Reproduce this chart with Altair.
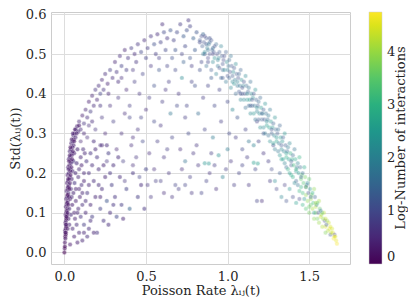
import altair as alt
import pandas as pd

# Dense left wedge (x, y, log-number)
wedge = [
    (0.000,0.000,0.0),(0.002,0.010,0.1),(0.003,0.025,0.2),(0.005,0.040,0.1),(0.004,0.055,0.3),(0.008,0.060,0.2),
    (0.006,0.075,0.2),(0.010,0.080,0.4),(0.007,0.095,0.3),(0.012,0.100,0.2),(0.015,0.090,0.5),(0.009,0.115,0.3),
    (0.014,0.120,0.4),(0.018,0.110,0.2),(0.011,0.135,0.3),(0.016,0.140,0.5),(0.021,0.130,0.3),(0.013,0.155,0.4),
    (0.019,0.160,0.3),(0.025,0.150,0.6),(0.016,0.175,0.3),(0.022,0.180,0.4),(0.028,0.170,0.5),(0.019,0.195,0.3),
    (0.026,0.200,0.5),(0.033,0.190,0.4),(0.023,0.215,0.4),(0.030,0.220,0.3),(0.037,0.210,0.6),(0.027,0.235,0.4),
    (0.034,0.240,0.5),(0.041,0.230,0.3),(0.033,0.255,0.5),(0.040,0.260,0.4),(0.047,0.250,0.5),(0.042,0.275,0.4),
    (0.050,0.280,0.6),(0.056,0.270,0.4),(0.055,0.295,0.5),(0.062,0.300,0.3),(0.068,0.290,0.5),(0.070,0.310,0.6),
    (0.078,0.318,0.4),(0.085,0.305,0.5),
    (0.020,0.060,0.3),(0.025,0.085,0.4),(0.030,0.110,0.5),(0.035,0.135,0.3),(0.040,0.160,0.6),(0.045,0.185,0.4),
    (0.050,0.205,0.5),(0.055,0.230,0.7),(0.060,0.250,0.4),(0.030,0.070,0.5),(0.040,0.095,0.6),(0.048,0.120,0.4),
    (0.055,0.150,0.5),(0.062,0.175,0.7),(0.068,0.200,0.5),(0.075,0.225,0.6),(0.080,0.260,0.5),
    (0.010,0.050,0.2),(0.013,0.070,0.3),(0.017,0.095,0.2),(0.020,0.125,0.4),(0.024,0.145,0.3),(0.028,0.165,0.2),
    (0.031,0.185,0.4),(0.036,0.205,0.3),(0.040,0.225,0.5),(0.045,0.245,0.3),(0.050,0.265,0.4),(0.058,0.285,0.3),
    (0.003,0.015,0.1),(0.006,0.035,0.2),(0.008,0.045,0.1),(0.011,0.065,0.2),(0.012,0.085,0.1),(0.014,0.105,0.3),
    (0.016,0.125,0.2),(0.018,0.145,0.1),(0.021,0.165,0.3),(0.023,0.185,0.2),(0.026,0.210,0.3),(0.029,0.230,0.2),
    (0.033,0.245,0.3),(0.037,0.265,0.2),(0.045,0.285,0.3),(0.052,0.300,0.4),(0.006,0.050,0.2),(0.009,0.070,0.3),
    (0.012,0.090,0.2),(0.020,0.100,0.3),(0.024,0.120,0.2),(0.027,0.140,0.3),(0.030,0.160,0.2),(0.034,0.175,0.3),
    (0.038,0.195,0.2),(0.043,0.215,0.3),(0.047,0.235,0.2),(0.052,0.255,0.3),(0.060,0.280,0.2),(0.065,0.310,0.3),
    (0.075,0.300,0.4),(0.090,0.320,0.3),
]

# Fan spreading to the right of the wedge
fan = [
    (0.050,0.060,0.5),(0.060,0.040,0.4),(0.075,0.070,0.6),(0.090,0.050,0.5),(0.100,0.090,0.7),(0.085,0.110,0.5),
    (0.110,0.120,0.6),(0.120,0.070,0.8),(0.130,0.100,0.5),(0.140,0.150,0.7),(0.095,0.140,0.4),(0.105,0.170,0.6),
    (0.150,0.060,0.6),(0.160,0.120,0.5),(0.170,0.090,0.8),(0.180,0.180,0.6),(0.120,0.200,0.5),(0.135,0.230,0.7),
    (0.190,0.140,0.5),(0.200,0.050,0.7),(0.210,0.210,0.6),(0.220,0.110,0.9),(0.230,0.160,0.6),(0.240,0.080,0.7),
    (0.250,0.190,0.5),(0.100,0.240,0.5),(0.115,0.260,0.6),(0.160,0.250,0.7),(0.260,0.130,1.2),(0.280,0.100,0.6),
    (0.290,0.170,0.8),(0.300,0.220,0.6),(0.310,0.140,0.7),(0.320,0.090,1.0),(0.340,0.190,0.6),(0.350,0.120,0.8),
    (0.360,0.085,0.5),(0.380,0.160,0.9),(0.400,0.110,1.5),(0.420,0.200,0.7),(0.450,0.140,0.8),(0.470,0.170,0.6),
    (0.490,0.110,0.7),(0.500,0.210,0.9),(0.070,0.130,0.4),(0.085,0.190,0.5),(0.150,0.200,0.6),(0.200,0.240,0.7),
    (0.230,0.270,0.5),(0.270,0.250,0.8),(0.180,0.280,0.6),(0.060,0.100,0.4),(0.045,0.140,0.5),(0.140,0.040,0.6),
    (0.110,0.030,0.5),(0.080,0.025,0.4),(0.035,0.020,0.3),
    (0.065,0.085,0.4),(0.080,0.100,0.5),(0.090,0.160,0.4),(0.110,0.150,0.5),(0.120,0.180,0.4),(0.130,0.130,0.6),
    (0.150,0.170,0.5),(0.070,0.160,0.4),(0.090,0.210,0.5),(0.105,0.220,0.4),(0.125,0.250,0.5),(0.170,0.220,0.6),
    (0.190,0.260,0.5),(0.210,0.170,0.6),(0.240,0.220,0.5),(0.260,0.270,0.6),(0.280,0.200,0.7),(0.330,0.240,0.6),
    (0.120,0.050,0.5),(0.160,0.080,0.6),(0.180,0.050,0.5),(0.270,0.070,0.6),(0.300,0.120,0.7),(0.220,0.140,0.5),
]

# Upper-left arch edge
arch = [
    (0.090,0.330,0.5),(0.100,0.310,0.6),(0.110,0.345,0.4),(0.120,0.325,0.7),(0.130,0.360,0.5),(0.140,0.340,0.6),
    (0.150,0.380,0.4),(0.160,0.355,0.8),(0.170,0.395,0.5),(0.180,0.370,0.6),(0.190,0.410,0.7),(0.200,0.385,0.5),
    (0.210,0.420,0.6),(0.220,0.400,0.9),(0.230,0.435,0.5),(0.240,0.410,0.7),(0.250,0.450,0.6),(0.265,0.425,0.5),
    (0.280,0.460,0.8),(0.295,0.440,0.6),(0.310,0.480,0.5),(0.320,0.455,0.7),(0.340,0.495,0.6),(0.350,0.470,0.9),
    (0.370,0.510,0.5),(0.390,0.490,0.7),(0.410,0.515,0.8),(0.430,0.500,0.6),(0.450,0.525,0.7),(0.470,0.505,1.0),
    (0.490,0.535,0.6),(0.510,0.515,0.8),(0.530,0.545,0.7),(0.550,0.525,1.1),(0.570,0.550,0.6),(0.590,0.530,0.9),
    (0.610,0.555,1.0),(0.630,0.540,0.7),(0.650,0.560,1.2),(0.670,0.535,0.9),(0.690,0.555,1.0),(0.710,0.575,0.8),
    (0.730,0.545,1.3),(0.750,0.560,1.1),(0.770,0.570,0.9),(0.790,0.540,1.4),(0.810,0.555,1.2),(0.830,0.530,1.0),
    (0.850,0.550,1.5),(0.870,0.525,1.3),(0.890,0.540,1.1),(0.910,0.515,1.6),
    (0.120,0.300,0.5),(0.170,0.330,0.6),(0.220,0.370,0.7),(0.270,0.400,0.5),(0.330,0.430,0.6),(0.380,0.460,0.8),
    (0.440,0.480,0.7),(0.500,0.490,0.9),(0.560,0.500,0.8),(0.620,0.510,1.0),(0.680,0.510,1.2),(0.740,0.520,1.0),
    (0.800,0.510,1.3),(0.860,0.500,1.2),(0.600,0.575,0.6),(0.760,0.585,0.7),
]

# Sparse interior of the arch
inner = [
    (0.10,0.28,0.5),(0.14,0.29,0.6),(0.19,0.31,0.7),(0.25,0.30,0.5),(0.30,0.33,0.8),(0.35,0.30,0.6),(0.40,0.34,0.9),
    (0.45,0.31,0.7),(0.50,0.36,0.6),(0.55,0.33,1.0),(0.60,0.38,0.8),(0.65,0.35,1.8),(0.70,0.40,0.7),(0.75,0.37,0.9),
    (0.80,0.42,1.1),(0.85,0.39,0.8),(0.90,0.44,1.3),(0.95,0.41,0.9),(1.00,0.38,1.0),
    (0.28,0.37,0.6),(0.33,0.39,0.7),(0.38,0.41,0.5),(0.43,0.43,0.8),(0.48,0.45,0.9),(0.53,0.47,0.7),(0.58,0.46,1.2),
    (0.63,0.47,0.9),(0.68,0.46,1.0),(0.73,0.48,1.4),(0.78,0.47,0.8),(0.83,0.46,1.1),(0.88,0.48,1.0),
    (0.22,0.27,0.6),(0.26,0.23,0.7),(0.32,0.26,0.5),(0.36,0.23,0.8),(0.41,0.27,0.6),(0.44,0.24,0.7),(0.48,0.28,1.0),
    (0.52,0.25,0.6),(0.57,0.28,0.8),(0.61,0.24,0.7),(0.66,0.29,0.9),(0.71,0.26,0.6),(0.76,0.30,1.0),(0.81,0.27,0.7),
    (0.86,0.31,0.9),(0.91,0.29,1.9),(0.96,0.33,0.8),(1.01,0.30,1.0),(1.06,0.34,1.2),(1.11,0.31,0.9),
    (0.37,0.18,0.7),(0.42,0.22,0.6),(0.46,0.19,0.9),(0.51,0.17,0.7),(0.55,0.21,0.6),(0.59,0.18,0.8),(0.64,0.20,0.7),
    (0.68,0.17,0.9),(0.72,0.21,0.6),(0.77,0.19,0.8),(0.82,0.22,0.7),(0.87,0.18,0.9),(0.92,0.22,0.8),(0.97,0.19,2.0),
    (1.02,0.23,0.7),(1.07,0.20,0.9),(1.12,0.24,0.8),(1.17,0.21,1.0),(1.22,0.25,0.7),
    (0.53,0.14,0.7),(0.61,0.15,0.6),(0.70,0.16,0.8),(0.78,0.15,0.7),(0.84,0.15,0.9),(0.93,0.16,0.6),(1.04,0.17,0.8),
    (1.13,0.17,0.7),(1.18,0.13,0.9),(1.21,0.13,0.6),(1.26,0.18,0.8),
    (0.40,0.37,0.8),(0.46,0.40,0.7),(0.55,0.42,1.1),(0.64,0.43,0.8),(0.72,0.44,2.2),(0.78,0.43,0.9),(0.92,0.37,1.0),
    (1.03,0.36,2.1),(1.08,0.40,1.1),(1.14,0.37,1.3),(1.18,0.33,0.9),(1.22,0.30,1.2),(1.16,0.27,2.0),(1.25,0.23,0.8),
    (1.28,0.27,1.0),
    (0.86,0.225,2.4),(0.885,0.224,2.4),(0.945,0.245,2.3),(1.16,0.226,2.6),(1.185,0.224,2.6),
    (0.15,0.32,0.6),(0.23,0.34,0.7),(0.37,0.35,0.6),(0.52,0.39,0.8),(0.62,0.41,0.7),(0.69,0.37,1.0),(0.74,0.34,0.8),
    (0.82,0.35,1.6),(0.88,0.42,0.9),(0.97,0.44,1.2),(0.59,0.32,0.7),(0.47,0.34,0.9),(0.42,0.29,0.6),(0.63,0.26,0.8),
    (0.74,0.23,1.7),(0.79,0.25,0.7),(0.90,0.25,0.8),(1.00,0.26,1.9),(1.05,0.29,0.8),(1.09,0.26,1.0),(1.13,0.28,1.8),
    (1.19,0.28,0.9),(0.56,0.18,0.8),(0.66,0.14,0.7),(0.74,0.17,0.9),(0.89,0.20,0.7),(0.99,0.21,0.8),(1.09,0.22,0.9),
    (0.35,0.44,0.6),(0.42,0.46,0.7),(0.58,0.49,0.8),(0.66,0.49,1.1),(0.72,0.50,0.9),(0.77,0.49,1.2),(0.84,0.48,1.0),
]

# Dense right-hand band running down to the tip
band = [
    (0.84,0.545,1.0),(0.845,0.52,1.3),(0.85,0.50,1.9),(0.87,0.54,1.2),(0.875,0.515,2.0),(0.88,0.49,0.9),
    (0.90,0.535,1.1),(0.905,0.51,1.4),(0.91,0.48,2.1),(0.93,0.525,1.5),(0.935,0.50,1.0),(0.94,0.47,1.8),
    (0.96,0.52,2.0),(0.965,0.495,1.2),(0.97,0.46,1.5),(0.99,0.505,1.3),(0.995,0.48,2.2),(1.00,0.445,1.1),
    (1.02,0.495,1.7),(1.025,0.47,1.2),(1.03,0.43,2.1),(1.015,0.455,1.0),(1.05,0.475,2.2),(1.055,0.45,1.3),
    (1.06,0.42,1.7),(1.045,0.435,1.9),(1.08,0.46,1.4),(1.085,0.435,2.3),(1.09,0.40,1.2),(1.075,0.42,1.8),
    (1.11,0.445,2.1),(1.115,0.42,1.5),(1.12,0.385,2.4),(1.105,0.40,1.1),(1.14,0.43,1.6),(1.145,0.40,2.2),
    (1.15,0.37,1.3),(1.135,0.385,2.5),(1.17,0.41,2.3),(1.175,0.385,1.4),(1.18,0.355,2.0),(1.165,0.37,1.7),
    (1.20,0.39,1.5),(1.205,0.365,2.5),(1.21,0.335,1.3),(1.195,0.35,2.2),(1.23,0.375,2.3),(1.235,0.35,1.6),
    (1.24,0.32,2.6),(1.225,0.335,1.2),(1.26,0.36,1.8),(1.265,0.33,2.5),(1.27,0.30,1.4),(1.255,0.315,2.7),
    (1.29,0.34,2.3),(1.295,0.31,1.5),(1.30,0.28,2.7),(1.285,0.295,2.0),(1.32,0.32,1.4),(1.325,0.29,2.6),
    (1.33,0.26,2.2),(1.315,0.275,1.7),(1.33,0.235,2.6),(1.35,0.30,2.4),(1.355,0.27,1.3),(1.36,0.24,2.9),
    (1.345,0.255,2.0),(1.36,0.215,1.6),(1.38,0.275,2.1),(1.385,0.25,3.0),(1.39,0.22,1.2),(1.375,0.235,2.6),
    (1.39,0.195,2.8),(1.41,0.26,1.7),(1.415,0.235,2.8),(1.42,0.205,2.4),(1.405,0.22,3.2),(1.42,0.18,1.4),
    (1.44,0.24,3.0),(1.445,0.215,1.5),(1.45,0.185,3.5),(1.435,0.20,2.5),(1.45,0.165,3.0),(1.47,0.215,2.8),
    (1.475,0.19,3.7),(1.48,0.165,1.3),(1.465,0.175,3.4),(1.48,0.145,3.9),(1.50,0.185,3.5),(1.505,0.16,2.4),
    (1.51,0.135,4.0),(1.495,0.15,1.2),(1.51,0.12,3.6),(1.53,0.16,3.9),(1.535,0.14,1.4),(1.54,0.115,4.2),
    (1.525,0.125,3.2),(1.54,0.10,3.8),(1.56,0.13,4.1),(1.565,0.11,3.5),(1.57,0.09,4.4),(1.555,0.10,1.1),
    (1.59,0.10,4.3),(1.595,0.08,1.0),(1.60,0.065,4.5),(1.585,0.085,3.9),(1.62,0.075,4.4),(1.625,0.06,4.6),
    (1.63,0.045,1.2),(1.615,0.055,4.2),(1.645,0.05,4.5),(1.65,0.035,4.7),(1.655,0.045,0.9),(1.665,0.03,4.6),
    (1.67,0.022,4.7),
    (0.855,0.53,1.1),(0.885,0.525,1.8),(0.915,0.505,1.2),(0.945,0.49,2.0),(0.975,0.485,1.0),(1.005,0.47,1.6),
    (1.035,0.455,2.2),(1.065,0.44,1.1),(1.095,0.42,2.0),(1.125,0.405,1.3),(1.155,0.39,2.3),(1.185,0.37,1.2),
    (1.215,0.35,2.2),(1.245,0.335,1.5),(1.275,0.315,2.5),(1.305,0.30,1.3),(1.335,0.28,2.4),(1.365,0.255,1.4),
    (1.395,0.235,2.9),(1.425,0.215,1.6),(1.455,0.195,3.5),(1.485,0.17,1.5),(1.515,0.145,3.8),(1.545,0.12,2.0),
    (1.575,0.095,4.0),(1.605,0.07,1.3),(1.635,0.05,4.3),
    (0.86,0.505,2.1),(0.89,0.50,1.0),(0.92,0.49,2.3),(0.95,0.465,1.1),(0.98,0.46,2.1),(1.01,0.44,1.4),
    (1.04,0.425,2.3),(1.07,0.405,1.2),(1.10,0.385,2.2),(1.13,0.37,1.5),(1.16,0.35,2.4),(1.19,0.335,1.3),
    (1.22,0.315,2.2),(1.25,0.295,1.6),(1.28,0.275,2.6),(1.31,0.255,1.8),(1.34,0.235,2.6),(1.37,0.21,3.0),
    (1.40,0.19,2.9),(1.43,0.17,1.7),(1.46,0.15,3.2),(1.49,0.13,3.9),(1.52,0.11,4.1),(1.55,0.085,3.7),
    (1.58,0.065,4.2),
    (1.27,0.21,1.0),(1.29,0.18,2.2),(1.30,0.16,0.9),(1.32,0.20,1.3),(1.33,0.14,2.1),(1.35,0.17,0.8),
    (1.36,0.13,1.1),(1.38,0.16,2.4),(1.40,0.14,1.0),(1.42,0.125,2.6),(1.44,0.135,0.9),(1.46,0.12,3.0),
    (1.48,0.11,3.4),(1.50,0.10,3.7),(1.53,0.085,3.9),
    (0.83,0.535,1.2),(0.86,0.545,0.9),(0.89,0.53,1.4),(0.92,0.52,1.1),(0.95,0.505,1.3),(0.98,0.495,1.0),
    (1.01,0.485,1.5),(1.04,0.465,1.2),(1.07,0.45,1.4),(1.10,0.43,1.1),(1.13,0.415,1.7),(1.16,0.40,1.2),
    (1.19,0.38,1.5),(1.22,0.36,1.3),(1.25,0.345,1.8),(1.28,0.325,1.4),(1.31,0.31,1.6),(1.34,0.29,1.3),
    (1.37,0.265,1.9),(1.40,0.245,1.5),(1.43,0.225,2.0),(1.46,0.20,1.6),(1.49,0.175,2.2),(1.52,0.15,2.9),
    (1.55,0.125,3.3),(1.58,0.10,3.6),(1.61,0.08,4.0),(1.64,0.06,4.4),(1.66,0.04,4.5),
    (0.87,0.47,1.6),(0.90,0.46,1.3),(0.93,0.45,2.0),(0.96,0.44,1.4),(0.99,0.43,1.8),(1.02,0.415,2.1),
    (1.05,0.40,1.5),(1.08,0.385,2.1),(1.11,0.365,1.6),(1.14,0.35,2.2),(1.17,0.335,1.7),(1.20,0.315,2.3),
    (1.23,0.30,1.8),(1.26,0.28,2.3),(1.29,0.26,1.9),(1.32,0.245,2.4),(1.35,0.225,2.0),(1.38,0.20,2.6),
    (1.41,0.175,2.1),(1.44,0.155,3.1),(1.47,0.135,2.4),(1.50,0.115,3.6),(1.53,0.10,2.6),(1.56,0.075,4.0),
    (1.60,0.05,3.8),
    (0.88,0.51,1.7),(0.91,0.50,0.9),(0.94,0.485,2.0),(0.97,0.475,1.1),(1.00,0.46,1.9),(1.03,0.445,1.3),
    (1.06,0.43,2.0),(1.09,0.415,1.0),(1.12,0.40,2.1),(1.15,0.385,1.1),(1.18,0.365,2.2),(1.21,0.35,1.2),
    (1.24,0.33,2.2),(1.27,0.31,1.1),(1.30,0.29,2.4),(1.33,0.27,1.2),(1.36,0.25,2.6),(1.39,0.23,1.3),
    (1.42,0.21,3.0),(1.45,0.19,1.4),(1.48,0.165,3.6),(1.51,0.14,1.6),(1.54,0.125,4.1),(1.57,0.105,1.7),
    (1.60,0.085,4.3),(1.63,0.065,4.5),(1.655,0.04,4.6),
]

x_ticks = [0.0, 0.5, 1.0, 1.5]
y_ticks = [0.0, 0.1, 0.2, 0.3, 0.4, 0.5, 0.6]
cbar_ticks = [0, 1, 2, 3, 4]
cbar_title = ["Log-Number of interactions"]

regions = [("wedge", wedge), ("fan", fan), ("arch", arch), ("inner", inner), ("band", band)]
rows = [(x, y, c, name) for name, pts in regions for (x, y, c) in pts]
df = pd.DataFrame(rows, columns=["x", "y", "c", "region"])

FONT = "DejaVu Serif"

points = alt.Chart(df).mark_circle(
    size=20, stroke="white", strokeWidth=0.4
).encode(
    x=alt.X("x:Q",
            scale=alt.Scale(domain=[-0.082, 1.75], nice=False, zero=False),
            axis=alt.Axis(values=x_ticks, format=".1f", title="Poisson Rate λᵢⱼ(t)",
                          titlePadding=1)),
    y=alt.Y("y:Q",
            scale=alt.Scale(domain=[-0.029, 0.606], nice=False, zero=False),
            axis=alt.Axis(values=y_ticks, format=".1f", title="Std(λᵢⱼ(t))",
                          titlePadding=3, labelPadding=5)),
    color=alt.Color("c:Q",
                    scale=alt.Scale(scheme="viridis", domain=[0, 4.75], nice=False),
                    legend=alt.Legend(title="", values=cbar_ticks,
                                      gradientLength=252, gradientThickness=13,
                                      gradientOpacity=1, labelOffset=5,
                                      offset=19, format="d")),
    opacity=alt.Opacity("region:N",
                        scale=alt.Scale(domain=["wedge", "fan", "arch", "inner", "band"],
                                        range=[0.55, 0.35, 0.38, 0.26, 0.5]),
                        legend=None),
)

cbar_label = alt.Chart(pd.DataFrame({"t": cbar_title})).mark_text(
    angle=270, font=FONT, fontSize=13, color="#262626", baseline="middle", align="center"
).encode(
    x=alt.value(350), y=alt.value(126), text="t:N"
)

chart = alt.layer(points, cbar_label).properties(
    width=299, height=252,
    autosize=alt.AutoSizeParams(type="none"),
    padding={"left": 43, "top": 4, "right": 58, "bottom": 34},
).configure_view(
    stroke="#cccccc", strokeWidth=1
).configure_axis(
    labelFont=FONT, titleFont=FONT, labelFontSize=13, titleFontSize=13,
    labelColor="#262626", titleColor="#262626", titleFontWeight="normal",
    gridColor="#dddddd", ticks=False, domain=False, labelPadding=6
).configure_legend(
    labelFont=FONT, labelFontSize=13,
    labelColor="#262626",
    gradientStrokeColor="#cccccc", gradientStrokeWidth=0.5, padding=0
)

chart.save("out.html", embed_options={"renderer": "svg", "actions": False})
